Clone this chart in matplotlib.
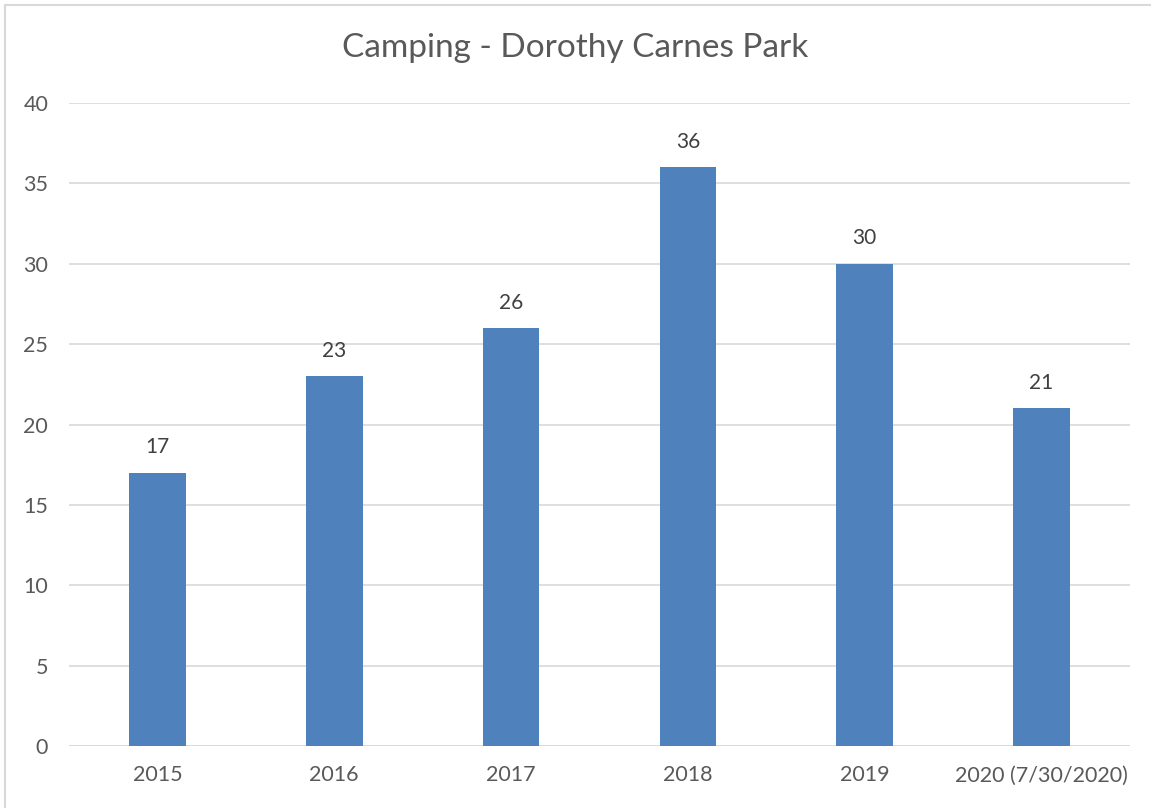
import matplotlib
matplotlib.use("Agg")
import matplotlib.pyplot as plt
from matplotlib.patches import Rectangle

categories = ["2015", "2016", "2017", "2018", "2019", "2020 (7/30/2020)"]
values = [17, 23, 26, 36, 30, 21]
yticks = [0, 5, 10, 15, 20, 25, 30, 35, 40]

plt.rcParams['font.family'] = ['Lato', 'DejaVu Sans']

fig = plt.figure(figsize=(11.51, 8.08), dpi=100)
ax = fig.add_axes([69/1151, 1-746/808, (1130-69)/1151, (746-103)/808])

x = list(range(len(categories)))
bars = ax.bar(x, values, width=0.32, color="#4F81BD", zorder=3)
for xi, v in zip(x, values):
    ax.annotate(str(v), (xi, v), xytext=(0, 11), textcoords="offset points",
                ha="center", va="bottom", fontsize=15, color="#404040")

ax.set_xlim(-0.5, len(categories) - 0.5)
ax.set_ylim(0, 40)
ax.set_yticks(yticks)
ax.set_xticks(x)
ax.set_xticklabels(categories)
ax.grid(axis="y", color="#D9D9D9", linewidth=1.2, zorder=0)
for s in ax.spines.values():
    s.set_visible(False)
ax.axhline(0, color="#D9D9D9", linewidth=1.2, zorder=2)
ax.tick_params(axis="both", length=0, labelsize=15.5, labelcolor="#595959")
ax.tick_params(axis="y", pad=15)
ax.tick_params(axis="x", pad=14)

fig.text(0.5, 1-48/808, "Camping - Dorothy Carnes Park", ha="center", va="center",
         fontsize=24, color="#595959")

fig.patches.append(Rectangle((5/1151, -0.01), 1.02, 1-5/808+0.01, transform=fig.transFigure,
                             fill=False, edgecolor="#D9D9D9", linewidth=1.5))

fig.savefig("out.png", dpi=100, facecolor="white")
